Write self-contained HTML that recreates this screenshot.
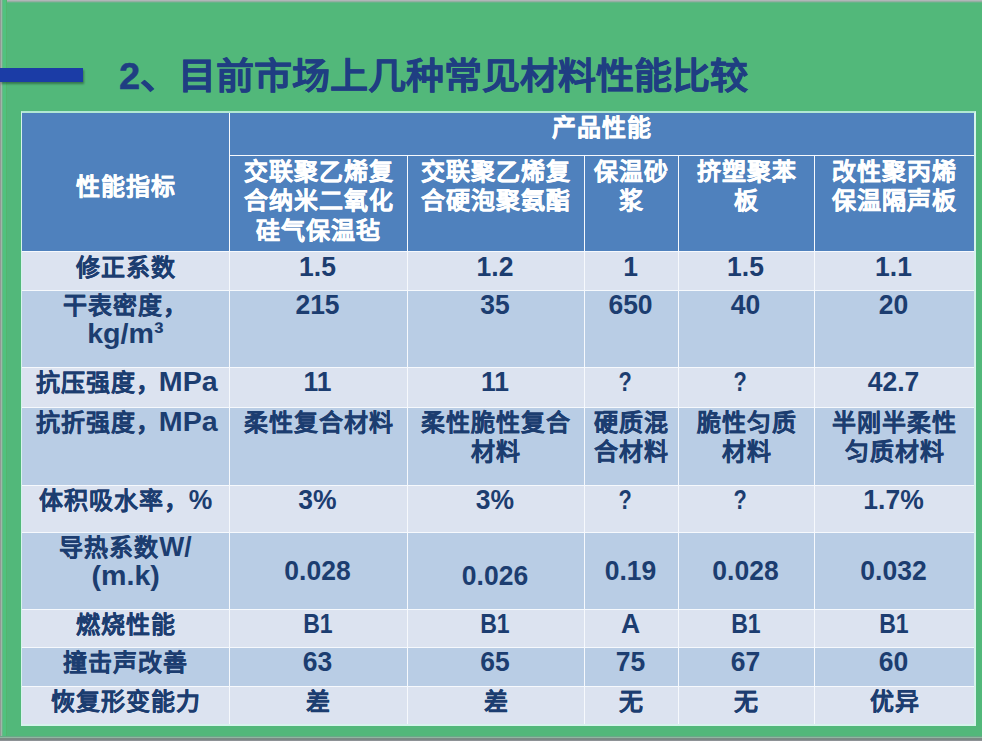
<!DOCTYPE html>
<html lang="zh-CN"><head><meta charset="utf-8">
<style>
*{margin:0;padding:0;box-sizing:border-box}
html,body{width:982px;height:741px;overflow:hidden}
body{background:#52b87a;font-family:"Liberation Sans",sans-serif;position:relative}
.frame-t{position:absolute;left:0;top:0;width:982px;height:3px;background:linear-gradient(to bottom,#b1b6b8 0,#b1b6b8 1px,#95aea1 1px,#95aea1 2px,#66b489 2px,#66b489 3px)}
.frame-l{position:absolute;left:0;top:0;width:7px;height:741px;background:linear-gradient(to right,#939896 0,#939896 1px,#9cb9a8 1px,#9cb9a8 2px,#6db38b 2px,#6db38b 3px,#50c27e 3px,#50c27e 6px,#53b56f 6px,#53b56f 7px)}
.frame-b{position:absolute;left:0;bottom:0;width:982px;height:5px;background:linear-gradient(to bottom,#6aa888 0,#6aa888 1px,#8fb9a0 1px,#8fb9a0 2px,#7a8a84 2px,#7a8a84 4px,#8e9296 4px)}
.bar{position:absolute;left:0;top:68px;width:83px;height:14px;background:#1b3ca6;box-shadow:1px 2px 2px rgba(0,0,0,.35)}
.title{position:absolute;left:119px;top:52px;font-size:38px;font-weight:bold;color:#1f3e82;-webkit-text-stroke:0.5px #1f3e82;white-space:nowrap;line-height:50px;transform:scaleY(0.96);transform-origin:0 25px}
.tbl{position:absolute;left:21px;top:111px;width:955px;height:615px;background:#f6f9fd}
.tblb{position:absolute;left:21px;top:111px;width:955px;height:615px;border:1px solid #d6f3ec;border-right-width:2px;border-bottom-width:2px;border-top:2px solid #b2e8d2;z-index:2}
.c{position:absolute;text-align:center;font-weight:bold;-webkit-text-stroke-width:0.35px;font-size:24px;letter-spacing:1px;line-height:29.3px;white-space:nowrap}
.l{display:inline-block;-webkit-text-stroke-width:0;font-size:26.5px;letter-spacing:0;line-height:20px;transform:scaleY(1.06);transform-origin:50% 19.18px}
.h{color:#fff}
.d{color:#1c3d70;-webkit-text-stroke-width:0.15px}
.lat{padding-right:2px}
.qm{padding-right:13px}
.qm .l{transform:scale(0.82,1.06)}
.w{transform:scale(1.08,1.06)}
.nb{transform:scale(0.87,1.06)}
</style></head><body>
<div class="frame-t"></div><div class="frame-l"></div><div class="frame-b"></div>
<div class="bar"></div>
<div class="title">2、目前市场上几种常见材料性能比较</div>
<div class="tbl"></div>
<div class="tblb"></div>
<div class="c h" style="left:22px;top:112px;width:207px;height:139px;background:#4f81bd;padding-top:59.5px">性能指标</div>
<div class="c h" style="left:230px;top:112px;width:744px;height:43px;background:#4f81bd;padding-top:1px">产品性能</div>
<div class="c h" style="left:230px;top:156px;width:177px;height:95px;background:#4f81bd;padding-top:1px">交联聚乙烯复<br>合纳米二氧化<br>硅气保温毡</div>
<div class="c h" style="left:408px;top:156px;width:176px;height:95px;background:#4f81bd;padding-top:1px">交联聚乙烯复<br>合硬泡聚氨酯</div>
<div class="c h" style="left:585px;top:156px;width:93px;height:95px;background:#4f81bd;padding-top:1px">保温砂<br>浆</div>
<div class="c h" style="left:679px;top:156px;width:135px;height:95px;background:#4f81bd;padding-top:1px">挤塑聚苯<br>板</div>
<div class="c h" style="left:815px;top:156px;width:159px;height:95px;background:#4f81bd;padding-top:1px">改性聚丙烯<br>保温隔声板</div>
<div class="c d" style="left:22px;top:252px;width:207px;height:38px;background:#dce3f0;padding-top:1px">修正系数</div>
<div class="c d lat" style="left:230px;top:252px;width:177px;height:38px;background:#dce3f0;padding-top:1px"><span class="l">1.5</span></div>
<div class="c d lat" style="left:408px;top:252px;width:176px;height:38px;background:#dce3f0;padding-top:1px"><span class="l">1.2</span></div>
<div class="c d lat" style="left:585px;top:252px;width:93px;height:38px;background:#dce3f0;padding-top:1px"><span class="l">1</span></div>
<div class="c d lat" style="left:679px;top:252px;width:135px;height:38px;background:#dce3f0;padding-top:1px"><span class="l">1.5</span></div>
<div class="c d lat" style="left:815px;top:252px;width:159px;height:38px;background:#dce3f0;padding-top:1px"><span class="l">1.1</span></div>
<div class="c d" style="left:22px;top:291px;width:207px;height:76px;background:#b9cde5;padding-top:0px">干表密度，<br><span class="l w">kg/m³</span></div>
<div class="c d lat" style="left:230px;top:291px;width:177px;height:76px;background:#b9cde5;padding-top:0px"><span class="l">215</span></div>
<div class="c d lat" style="left:408px;top:291px;width:176px;height:76px;background:#b9cde5;padding-top:0px"><span class="l">35</span></div>
<div class="c d lat" style="left:585px;top:291px;width:93px;height:76px;background:#b9cde5;padding-top:0px"><span class="l">650</span></div>
<div class="c d lat" style="left:679px;top:291px;width:135px;height:76px;background:#b9cde5;padding-top:0px"><span class="l">40</span></div>
<div class="c d lat" style="left:815px;top:291px;width:159px;height:76px;background:#b9cde5;padding-top:0px"><span class="l">20</span></div>
<div class="c d" style="left:22px;top:368px;width:207px;height:39px;background:#dce3f0;padding-top:0px">抗压强度，<span class="l w">MPa</span></div>
<div class="c d lat" style="left:230px;top:368px;width:177px;height:39px;background:#dce3f0;padding-top:0px"><span class="l">11</span></div>
<div class="c d lat" style="left:408px;top:368px;width:176px;height:39px;background:#dce3f0;padding-top:0px"><span class="l">11</span></div>
<div class="c d qm" style="left:585px;top:368px;width:93px;height:39px;background:#dce3f0;padding-top:0px"><span class="l">?</span></div>
<div class="c d qm" style="left:679px;top:368px;width:135px;height:39px;background:#dce3f0;padding-top:0px"><span class="l">?</span></div>
<div class="c d lat" style="left:815px;top:368px;width:159px;height:39px;background:#dce3f0;padding-top:0px"><span class="l">42.7</span></div>
<div class="c d" style="left:22px;top:408px;width:207px;height:77px;background:#b9cde5;padding-top:0px">抗折强度，<span class="l w">MPa</span></div>
<div class="c d" style="left:230px;top:408px;width:177px;height:77px;background:#b9cde5;padding-top:0px">柔性复合材料</div>
<div class="c d" style="left:408px;top:408px;width:176px;height:77px;background:#b9cde5;padding-top:0px">柔性脆性复合<br>材料</div>
<div class="c d" style="left:585px;top:408px;width:93px;height:77px;background:#b9cde5;padding-top:0px">硬质混<br>合材料</div>
<div class="c d" style="left:679px;top:408px;width:135px;height:77px;background:#b9cde5;padding-top:0px">脆性匀质<br>材料</div>
<div class="c d" style="left:815px;top:408px;width:159px;height:77px;background:#b9cde5;padding-top:0px">半刚半柔性<br>匀质材料</div>
<div class="c d" style="left:22px;top:486px;width:207px;height:46px;background:#dce3f0;padding-top:0px">体积吸水率，<span class="l">%</span></div>
<div class="c d lat" style="left:230px;top:486px;width:177px;height:46px;background:#dce3f0;padding-top:0px"><span class="l">3%</span></div>
<div class="c d lat" style="left:408px;top:486px;width:176px;height:46px;background:#dce3f0;padding-top:0px"><span class="l">3%</span></div>
<div class="c d qm" style="left:585px;top:486px;width:93px;height:46px;background:#dce3f0;padding-top:0px"><span class="l">?</span></div>
<div class="c d qm" style="left:679px;top:486px;width:135px;height:46px;background:#dce3f0;padding-top:0px"><span class="l">?</span></div>
<div class="c d lat" style="left:815px;top:486px;width:159px;height:46px;background:#dce3f0;padding-top:0px"><span class="l">1.7%</span></div>
<div class="c d" style="left:22px;top:533px;width:207px;height:76px;background:#b9cde5;padding-top:0px">导热系数<span class="l">W/</span><br><span class="l w">(m.k)</span></div>
<div class="c d lat" style="left:230px;top:533px;width:177px;height:76px;background:#b9cde5;padding-top:24px"><span class="l">0.028</span></div>
<div class="c d lat" style="left:408px;top:533px;width:176px;height:76px;background:#b9cde5;padding-top:29px"><span class="l">0.026</span></div>
<div class="c d lat" style="left:585px;top:533px;width:93px;height:76px;background:#b9cde5;padding-top:24px"><span class="l">0.19</span></div>
<div class="c d lat" style="left:679px;top:533px;width:135px;height:76px;background:#b9cde5;padding-top:24px"><span class="l">0.028</span></div>
<div class="c d lat" style="left:815px;top:533px;width:159px;height:76px;background:#b9cde5;padding-top:24px"><span class="l">0.032</span></div>
<div class="c d" style="left:22px;top:610px;width:207px;height:37px;background:#dce3f0;padding-top:0px">燃烧性能</div>
<div class="c d lat" style="left:230px;top:610px;width:177px;height:37px;background:#dce3f0;padding-top:0px"><span class="l nb">B1</span></div>
<div class="c d lat" style="left:408px;top:610px;width:176px;height:37px;background:#dce3f0;padding-top:0px"><span class="l nb">B1</span></div>
<div class="c d lat" style="left:585px;top:610px;width:93px;height:37px;background:#dce3f0;padding-top:0px"><span class="l">A</span></div>
<div class="c d lat" style="left:679px;top:610px;width:135px;height:37px;background:#dce3f0;padding-top:0px"><span class="l nb">B1</span></div>
<div class="c d lat" style="left:815px;top:610px;width:159px;height:37px;background:#dce3f0;padding-top:0px"><span class="l nb">B1</span></div>
<div class="c d" style="left:22px;top:648px;width:207px;height:38px;background:#b9cde5;padding-top:0px">撞击声改善</div>
<div class="c d lat" style="left:230px;top:648px;width:177px;height:38px;background:#b9cde5;padding-top:0px"><span class="l">63</span></div>
<div class="c d lat" style="left:408px;top:648px;width:176px;height:38px;background:#b9cde5;padding-top:0px"><span class="l">65</span></div>
<div class="c d lat" style="left:585px;top:648px;width:93px;height:38px;background:#b9cde5;padding-top:0px"><span class="l">75</span></div>
<div class="c d lat" style="left:679px;top:648px;width:135px;height:38px;background:#b9cde5;padding-top:0px"><span class="l">67</span></div>
<div class="c d lat" style="left:815px;top:648px;width:159px;height:38px;background:#b9cde5;padding-top:0px"><span class="l">60</span></div>
<div class="c d" style="left:22px;top:687px;width:207px;height:37px;background:#dce3f0;padding-top:0px">恢复形变能力</div>
<div class="c d" style="left:230px;top:687px;width:177px;height:37px;background:#dce3f0;padding-top:0px">差</div>
<div class="c d" style="left:408px;top:687px;width:176px;height:37px;background:#dce3f0;padding-top:0px">差</div>
<div class="c d" style="left:585px;top:687px;width:93px;height:37px;background:#dce3f0;padding-top:0px">无</div>
<div class="c d" style="left:679px;top:687px;width:135px;height:37px;background:#dce3f0;padding-top:0px">无</div>
<div class="c d" style="left:815px;top:687px;width:159px;height:37px;background:#dce3f0;padding-top:0px">优异</div>
</body></html>
